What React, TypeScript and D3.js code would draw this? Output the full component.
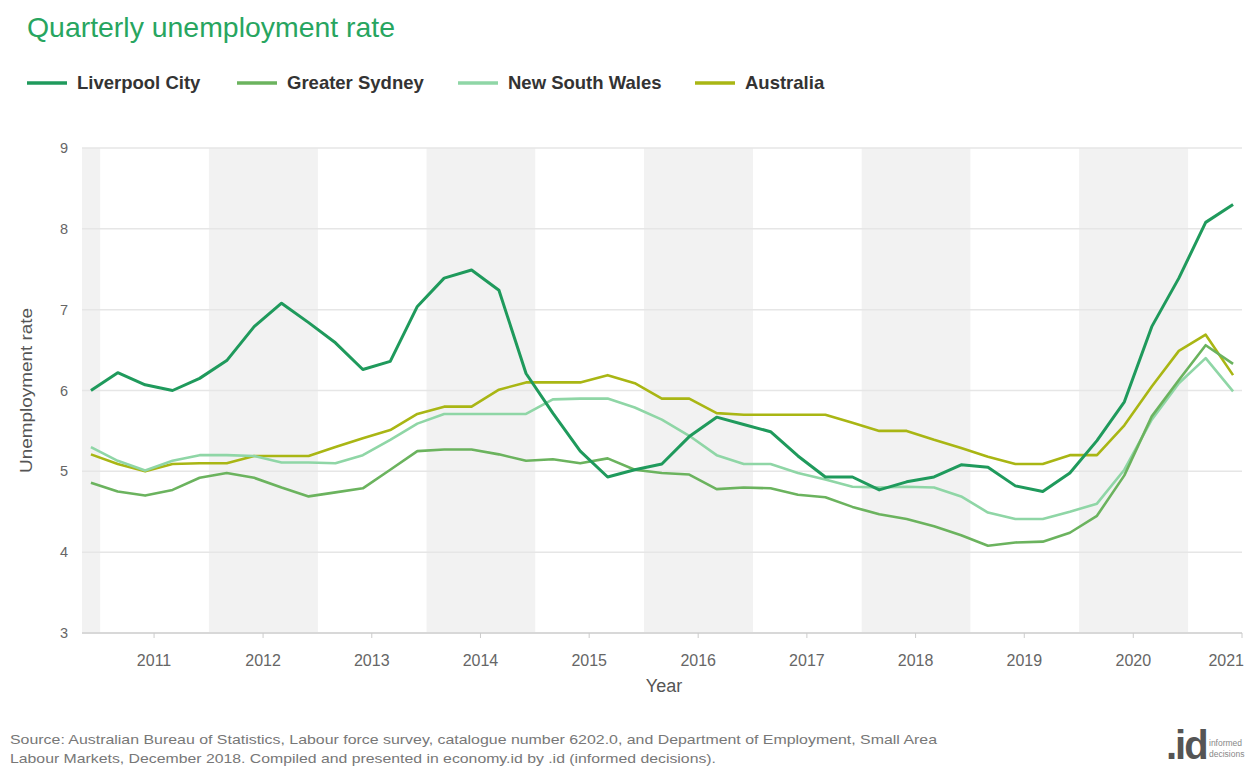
import React from "react";
import * as d3 from "d3";

const quarters = [
  "2010-12",
  "2011-03", "2011-06", "2011-09", "2011-12",
  "2012-03", "2012-06", "2012-09", "2012-12",
  "2013-03", "2013-06", "2013-09", "2013-12",
  "2014-03", "2014-06", "2014-09", "2014-12",
  "2015-03", "2015-06", "2015-09", "2015-12",
  "2016-03", "2016-06", "2016-09", "2016-12",
  "2017-03", "2017-06", "2017-09", "2017-12",
  "2018-03", "2018-06", "2018-09", "2018-12",
  "2019-03", "2019-06", "2019-09", "2019-12",
  "2020-03", "2020-06", "2020-09", "2020-12",
  "2021-03", "2021-06",
];

const liverpool = [
  6.0, 6.22, 6.07, 6.0, 6.15, 6.37, 6.79, 7.08, 6.84, 6.59, 6.26, 6.36, 7.04,
  7.39, 7.49, 7.24, 6.21, 5.72, 5.25, 4.93, 5.02, 5.09, 5.43, 5.67, 5.58, 5.49,
  5.19, 4.93, 4.93, 4.77, 4.87, 4.93, 5.08, 5.05, 4.82, 4.75, 4.98, 5.38, 5.86,
  6.79, 7.39, 8.08, 8.3,
];
const greaterSydney = [
  4.86, 4.75, 4.7, 4.77, 4.92, 4.98, 4.92, 4.8, 4.69, 4.74, 4.79, 5.02, 5.25,
  5.27, 5.27, 5.21, 5.13, 5.15, 5.1, 5.16, 5.02, 4.98, 4.96, 4.78, 4.8, 4.79,
  4.71, 4.68, 4.56, 4.47, 4.41, 4.32, 4.21, 4.08, 4.12, 4.13, 4.24, 4.45, 4.95,
  5.68, 6.13, 6.56, 6.33,
];
const newSouthWales = [
  5.3, 5.13, 5.01, 5.13, 5.2, 5.2, 5.19, 5.11, 5.11, 5.1, 5.2, 5.39, 5.59, 5.71,
  5.71, 5.71, 5.71, 5.89, 5.9, 5.9, 5.79, 5.64, 5.44, 5.2, 5.09, 5.09, 4.98,
  4.9, 4.81, 4.8, 4.81, 4.8, 4.69, 4.49, 4.41, 4.41, 4.5, 4.6, 5.02, 5.64, 6.09,
  6.4, 5.99,
];
const australia = [
  5.21, 5.09, 5.0, 5.09, 5.1, 5.1, 5.19, 5.19, 5.19, 5.3, 5.41, 5.51, 5.71, 5.8,
  5.8, 6.01, 6.1, 6.1, 6.1, 6.19, 6.09, 5.9, 5.9, 5.72, 5.7, 5.7, 5.7, 5.7, 5.6,
  5.5, 5.5, 5.39, 5.29, 5.18, 5.09, 5.09, 5.2, 5.2, 5.57, 6.05, 6.49, 6.69,
  6.19,
];

const seriesNames = ["Liverpool City", "Greater Sydney", "New South Wales", "Australia"];
const seriesColors = ["#1f9a5c", "#6bb35e", "#8fd6a6", "#a9b614"];
const seriesValues = [liverpool, greaterSydney, newSouthWales, australia];

const yTicks = [3, 4, 5, 6, 7, 8, 9];
const xTickYears = [2011, 2012, 2013, 2014, 2015, 2016, 2017, 2018, 2019, 2020, 2021];
const bandYears = [2010, 2012, 2014, 2016, 2018, 2020];

const W = 1248;
const H = 767;
const FONT = "'Liberation Sans', Arial, sans-serif";

export default function App() {
  const parse = d3.utcParse("%Y-%m");
  const dates = quarters.map((q) => parse(q) as Date);

  const left = 82;
  const right = 1242;
  const top = 148;
  const bottom = 633;

  const x = d3
    .scaleUtc()
    .domain([new Date(Date.UTC(2010, 10, 1)), new Date(Date.UTC(2021, 6, 1))])
    .range([left, right]);
  const y = d3.scaleLinear().domain([3, 9]).range([bottom, top]);

  const line = d3
    .line<number>()
    .x((_, i) => x(dates[i]))
    .y((v) => y(v))
    .curve(d3.curveLinear);

  const legendX = [27, 237, 458, 695];

  return (
    <svg
      width={W}
      height={H}
      style={{ position: "absolute", left: 0, top: 0, background: "#fff" }}
      fontFamily={FONT}
    >
      <rect x={0} y={0} width={W} height={H} fill="#fff" />
      <text x={27} y={37} fontSize={28} fill="#27a560" textLength={368} lengthAdjust="spacingAndGlyphs">
        Quarterly unemployment rate
      </text>

      {seriesNames.map((name, i) => (
        <g key={name} transform={`translate(${legendX[i]},83)`}>
          <line x1={0} x2={40} y1={0} y2={0} stroke={seriesColors[i]} strokeWidth={3.5} />
          <text x={50} y={6} fontSize={18.5} fontWeight="bold" fill="#333">
            {name}
          </text>
        </g>
      ))}

      {bandYears.map((yr) => {
        const x0 = Math.max(left, x(new Date(Date.UTC(yr, 0, 1))));
        const x1 = Math.min(right, x(new Date(Date.UTC(yr + 1, 0, 1))));
        return <rect key={yr} x={x0} y={top} width={x1 - x0} height={bottom - top} fill="#f2f2f2" />;
      })}

      {yTicks.map((t) => (
        <g key={t}>
          <line
            x1={left}
            x2={right}
            y1={y(t)}
            y2={y(t)}
            stroke={t === 3 ? "#d8d8d8" : "#e6e6e6"}
            strokeWidth={t === 3 ? 2 : 1.5}
          />
          <text x={68} y={y(t) + 5} fontSize={14.5} fill="#666" textAnchor="end">
            {t}
          </text>
        </g>
      ))}

      {xTickYears.map((yr, i) => {
        const xx = x(new Date(Date.UTC(yr, 6, 1)));
        const last = i === xTickYears.length - 1;
        return (
          <g key={yr}>
            <line x1={xx} x2={xx} y1={bottom} y2={bottom + 5} stroke="#ccc" strokeWidth={1} />
            <text x={last ? W - 4 : xx} y={666} fontSize={16} fill="#666" textAnchor={last ? "end" : "middle"}>
              {yr}
            </text>
          </g>
        );
      })}

      <text x={664} y={692} fontSize={18} fill="#555" textAnchor="middle">
        Year
      </text>
      <text
        transform={`translate(32,${(top + bottom) / 2}) rotate(-90)`}
        fontSize={17}
        fill="#555"
        textAnchor="middle"
        textLength={165}
        lengthAdjust="spacingAndGlyphs"
      >
        Unemployment rate
      </text>

      {seriesValues.map((vals, i) => (
        <path
          key={seriesNames[i]}
          d={line(vals) || ""}
          fill="none"
          stroke={seriesColors[i]}
          strokeWidth={i === 0 ? 3 : 2.6}
          strokeLinejoin="round"
        />
      )).reverse()}

      <text x={10} y={744} fontSize={13.5} fill="#777" textLength={927} lengthAdjust="spacingAndGlyphs">
        Source: Australian Bureau of Statistics, Labour force survey, catalogue number 6202.0, and Department of Employment, Small Area
      </text>
      <text x={10} y={763} fontSize={13.5} fill="#777" textLength={706} lengthAdjust="spacingAndGlyphs">
        Labour Markets, December 2018. Compiled and presented in economy.id by .id (informed decisions).
      </text>

      <text x={1166} y={759} fontSize={40} fontWeight="bold" fill="#555" letterSpacing={-2}>
        .id
      </text>
      <text x={1209} y={746} fontSize={8.5} fill="#888">
        informed
      </text>
      <text x={1209} y={757} fontSize={8.5} fill="#888">
        decisions
      </text>
    </svg>
  );
}
